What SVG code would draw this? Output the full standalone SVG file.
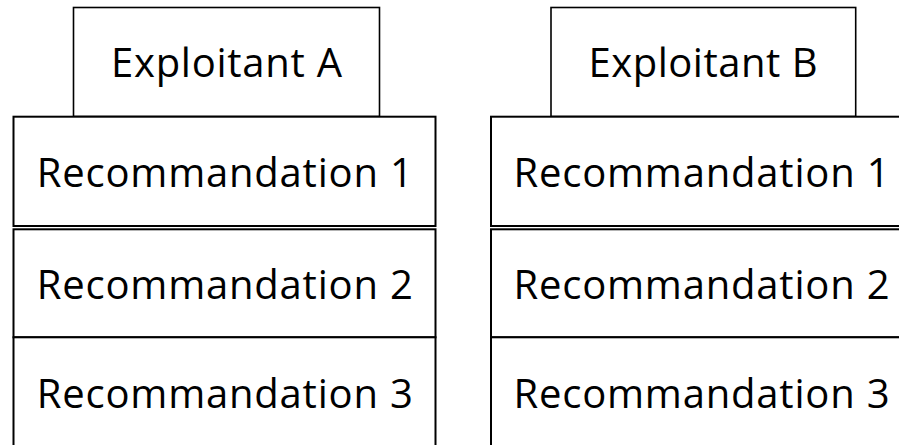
<svg xmlns="http://www.w3.org/2000/svg" width="899" height="445" viewBox="0 0 899 445">
  <style>
    .head { fill: #ffffff; stroke: #000000; stroke-width: 1.6; }
    .rec { fill: #ffffff; stroke: #000000; stroke-width: 2; }
    .lbl { font-family: "Open Sans", "Noto Sans", "Liberation Sans", sans-serif; font-size: 40px; fill: #000000; text-anchor: middle; }
  </style>
  <rect width="899" height="445" fill="#ffffff"/>

  <!-- Column A -->
  <g id="exploitant-a">
    <rect class="head" x="73.5" y="7.5" width="306" height="109"/>
    <text class="lbl" x="226.5" y="76.7" textLength="231" lengthAdjust="spacing">Exploitant A</text>
  </g>
  <g id="a-rec1">
    <rect class="rec" x="13.5" y="116.7" width="422" height="109.3"/>
    <text class="lbl" x="224.8" y="186.7" textLength="376" lengthAdjust="spacing">Recommandation 1</text>
  </g>
  <g id="a-rec2">
    <rect class="rec" x="13.5" y="229.3" width="422" height="108"/>
    <text class="lbl" x="224.8" y="299" textLength="376" lengthAdjust="spacing">Recommandation 2</text>
  </g>
  <g id="a-rec3">
    <rect class="rec" x="13.5" y="337.3" width="422" height="120"/>
    <text class="lbl" x="224.8" y="408.3" textLength="376" lengthAdjust="spacing">Recommandation 3</text>
  </g>

  <!-- Column B -->
  <g id="exploitant-b">
    <rect class="head" x="551" y="7.5" width="304.7" height="109"/>
    <text class="lbl" x="703" y="76.7" textLength="229" lengthAdjust="spacing">Exploitant B</text>
  </g>
  <g id="b-rec1">
    <rect class="rec" x="491" y="116.7" width="422" height="109.3"/>
    <text class="lbl" x="701.5" y="186.7" textLength="376" lengthAdjust="spacing">Recommandation 1</text>
  </g>
  <g id="b-rec2">
    <rect class="rec" x="491" y="229.3" width="422" height="108"/>
    <text class="lbl" x="701.5" y="299" textLength="376" lengthAdjust="spacing">Recommandation 2</text>
  </g>
  <g id="b-rec3">
    <rect class="rec" x="491" y="337.3" width="422" height="120"/>
    <text class="lbl" x="701.5" y="408.3" textLength="376" lengthAdjust="spacing">Recommandation 3</text>
  </g>
</svg>
